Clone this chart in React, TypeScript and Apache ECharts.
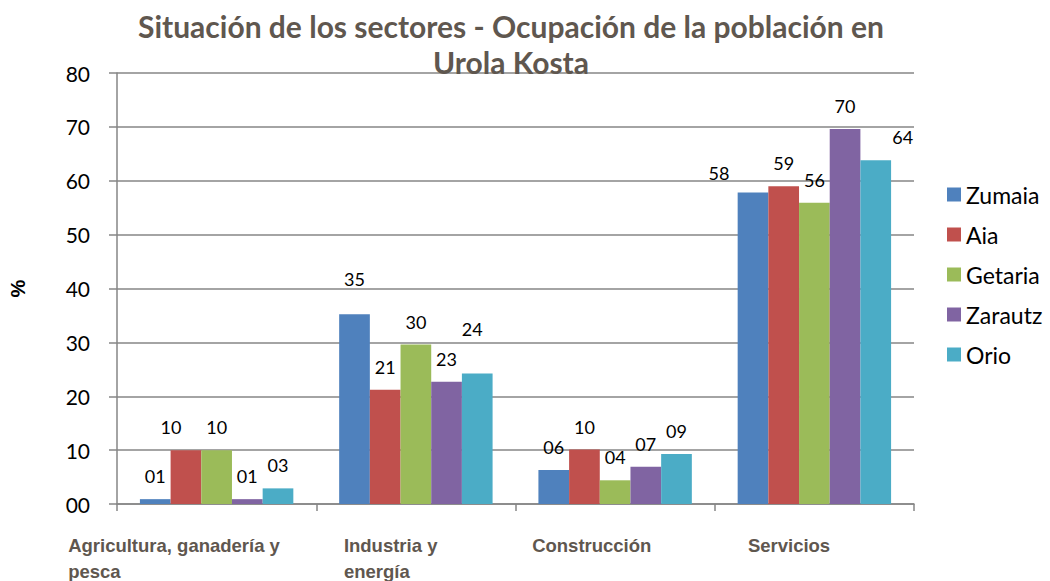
import React, { useEffect, useRef } from "react";
import * as echarts from "echarts";

const titleText = "Situación de los sectores - Ocupación de la población en\nUrola Kosta";
const categories = ["Agricultura, ganadería y\npesca", "Industria y\nenergía", "Construcción", "Servicios"];
const seriesNames = ["Zumaia", "Aia", "Getaria", "Zarautz", "Orio"];
const zumaia = [0.9, 35.2, 6.3, 57.8];
const aia = [10.0, 21.2, 10.1, 59.0];
const getaria = [10.0, 29.6, 4.4, 55.9];
const zarautz = [0.9, 22.7, 6.9, 69.6];
const orio = [2.9, 24.2, 9.3, 63.8];
const yMin = 0;
const yMax = 80;
const yStep = 10;

const colors = ["#4F81BD", "#C0504D", "#9BBB59", "#8064A2", "#4BACC6"];
// label nudges: [seriesIndex, categoryIndex, dx, dy]
const labelNudges = [
  [1, 0, -15, 0],
  [0, 1, 0, -12],
  [4, 1, -5, -22],
  [0, 3, -34, 3],
  [4, 3, 27, 0],
];
// x label block widths (Excel-like left-aligned offsets)
const xLabelWidths = [297, 144, 166, 133];

const pad2 = (v: number) => String(Math.round(v)).padStart(2, "0");

export default function App() {
  const ref = useRef<HTMLDivElement>(null);
  useEffect(() => {
    if (!ref.current) return;
    const chart = echarts.init(ref.current, null, { renderer: "svg" });
    const values = [zumaia, aia, getaria, zarautz, orio];
    const labelColor = "#5F574F";
    const rich: any = {};
    xLabelWidths.forEach((w, i) => {
      rich["c" + i] = {
        width: w,
        align: "left",
        fontSize: 18.5,
        fontWeight: "bold",
        color: labelColor,
        lineHeight: 26,
        fontFamily: "Liberation Sans, Arial, sans-serif",
      };
    });
    const series = seriesNames.map((name, si) => ({
      name,
      type: "bar",
      barGap: "0%",
      barCategoryGap: "23%",
      itemStyle: { color: colors[si] },
      label: {
        show: true,
        position: "top",
        distance: 14,
        color: "#000",
        fontSize: 18,
        fontFamily: "Lato, sans-serif",
        formatter: (p: any) => pad2(p.value),
      },
      data: values[si].map((v, ci) => {
        const n = labelNudges.find((x) => x[0] === si && x[1] === ci);
        return n ? { value: v, label: { offset: [n[2], n[3]] } } : v;
      }),
    }));
    chart.setOption({
      animation: false,
      color: colors,
      title: {
        text: titleText,
        left: 506,
        top: 3,
        textAlign: "center",
        textStyle: {
          fontSize: 30,
          fontWeight: "bold",
          color: labelColor,
          lineHeight: 36,
          fontFamily: "Lato, sans-serif",
        },
      },
      legend: {
        orient: "vertical",
        left: 942,
        top: 178,
        itemWidth: 14,
        itemHeight: 14,
        itemGap: 17,
        icon: "rect",
        textStyle: { fontSize: 23, color: "#000", fontFamily: "Lato, sans-serif" },
        data: seriesNames,
      },
      grid: { left: 117, right: 136, top: 73, bottom: 77, containLabel: false, outerBoundsMode: "none" },
      xAxis: {
        type: "category",
        data: categories,
        axisLine: { lineStyle: { color: "#868686", width: 1.5 } },
        axisTick: { show: true, length: 7, lineStyle: { color: "#868686", width: 1.5 } },
        axisLabel: {
          interval: 0,
          margin: 28,
          formatter: (value: string, idx: number) =>
            value.split("\n").map((l) => `{c${idx}|${l}}`).join("\n"),
          rich,
        },
      },
      yAxis: {
        type: "value",
        min: yMin,
        max: yMax,
        interval: yStep,
        name: "%",
        nameLocation: "middle",
        nameGap: 89,
        nameRotate: 90,
        nameTextStyle: { fontSize: 20, fontWeight: "bold", color: "#000", fontFamily: "Liberation Sans, Arial, sans-serif" },
        axisLine: { show: true, lineStyle: { color: "#868686", width: 1.5 } },
        axisTick: { show: true, length: 8, lineStyle: { color: "#868686", width: 1.5 } },
        splitLine: { show: true, lineStyle: { color: "#868686", width: 1.5 } },
        axisLabel: {
          margin: 27,
          fontSize: 21,
          color: "#000",
          fontFamily: "Lato, sans-serif",
          formatter: (v: number) => pad2(v),
        },
      },
      series,
    });
    return () => chart.dispose();
  }, []);
  return (
    <div
      ref={ref}
      style={{ position: "fixed", left: 0, top: 0, width: 1050, height: 581, background: "#fff" }}
    />
  );
}
